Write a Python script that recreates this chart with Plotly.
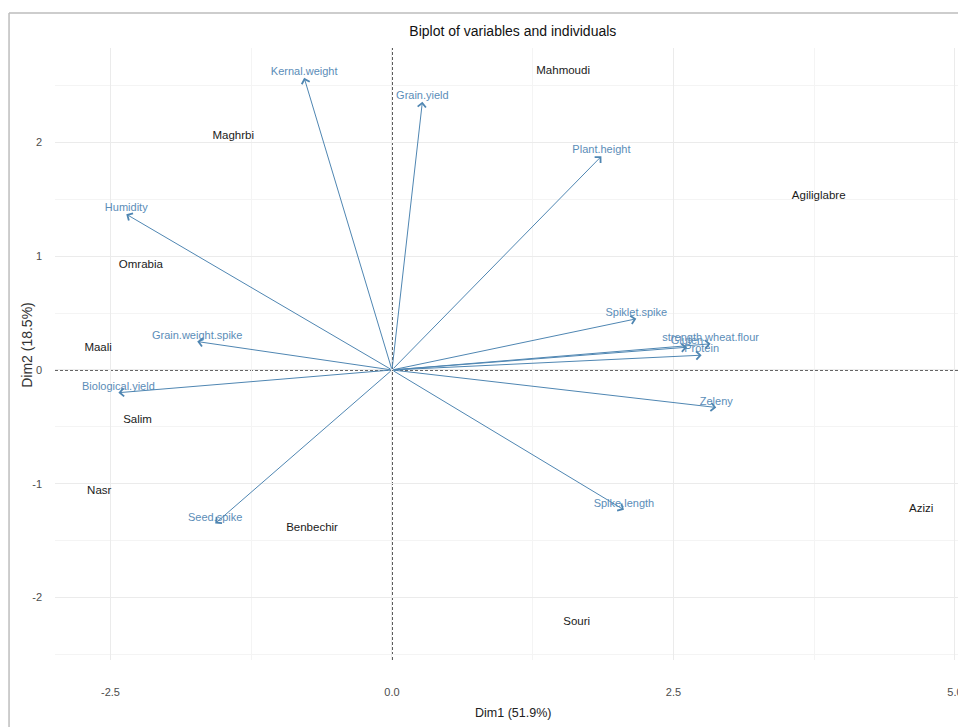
import plotly.graph_objects as go

# PCA biplot: individuals (genotypes) and variables (traits) on Dim1 / Dim2
ind_names = ["Mahmoudi", "Maghrbi", "Agiliglabre", "Omrabia", "Maali",
             "Salim", "Nasr", "Benbechir", "Souri", "Azizi"]
ind_dim1 = [1.52, -1.41, 3.79, -2.23, -2.61, -2.26, -2.60, -0.71, 1.64, 4.70]
ind_dim2 = [2.63, 2.06, 1.53, 0.92, 0.19, -0.44, -1.07, -1.39, -2.22, -1.22]

var_names = ["Kernal.weight", "Grain.yield", "Plant.height", "Humidity",
             "Spiklet.spike", "strength.wheat.flour", "Gluten", "Protein",
             "Zeleny", "Spike.length", "Seed.spike", "Grain.weight.spike",
             "Biological.yield"]
var_dim1 = [-0.78, 0.27, 1.86, -2.36, 2.17, 2.83, 2.62, 2.75, 2.88, 2.06,
            -1.57, -1.73, -2.43]
var_dim2 = [2.57, 2.36, 1.88, 1.37, 0.45, 0.23, 0.20, 0.13, -0.33, -1.23,
            -1.35, 0.25, -0.20]

x_ticks = [-2.5, 0.0, 2.5, 5.0]
x_tick_text = ["-2.5", "0.0", "2.5", "5.0"]
y_ticks = [-2, -1, 0, 1, 2]
y_tick_text = ["-2", "-1", "0", "1", "2"]

FONT = "Liberation Sans Narrow, Arial Narrow, Liberation Sans, Arial, sans-serif"
REGULAR = "Liberation Sans, Arial, sans-serif"
VAR_COLOR = "#4f86b2"
GRID = "#ebebeb"
GRID_MINOR = "#f4f4f4"

fig = go.Figure()

# individuals as text labels
fig.add_trace(go.Scatter(
    x=ind_dim1, y=ind_dim2, mode="text", text=ind_names,
    textposition="middle center",
    textfont=dict(family=FONT, size=11.5, color="#1a1a1a"),
    hoverinfo="text", showlegend=False,
))

# variable labels just above the arrow tips
fig.add_trace(go.Scatter(
    x=var_dim1, y=var_dim2, mode="text", text=var_names,
    textposition="top center",
    textfont=dict(family=FONT, size=11, color="#5b8db8"),
    hoverinfo="text", showlegend=False,
))

# variable arrows from the origin
annotations = []
for vx, vy in zip(var_dim1, var_dim2):
    annotations.append(dict(
        x=vx, y=vy, ax=0, ay=0, xref="x", yref="y", axref="x", ayref="y",
        text="", showarrow=True, arrowhead=4, arrowsize=1.6, arrowwidth=1,
        arrowcolor=VAR_COLOR, standoff=0, startstandoff=0,
    ))

# axis titles
annotations.append(dict(
    text="Dim1 (51.9%)", xref="paper", yref="paper", x=0.507, y=-0.0865,
    yanchor="middle", xanchor="center", showarrow=False,
    font=dict(family=FONT, size=12.5, color="#222222"),
))
annotations.append(dict(
    text="Dim2 (18.5%)", xref="paper", yref="paper", x=-0.031, y=0.515,
    textangle=-90, yanchor="middle", xanchor="center", showarrow=False,
    font=dict(family=REGULAR, size=14, color="#333333"),
))

shapes = [
    # dashed reference lines through the origin
    dict(type="line", xref="x", yref="paper", x0=0, x1=0, y0=0, y1=1,
         line=dict(color="#333333", width=1.6, dash="3px,2px"), layer="below"),
    dict(type="line", xref="paper", yref="y", x0=0, x1=1, y0=0, y1=0,
         line=dict(color="#333333", width=1.6, dash="3px,2px"), layer="below"),
    # outer frame
    dict(type="line", xref="paper", yref="paper", x0=-0.0509, x1=-0.0509,
         y0=-0.3, y1=1.0572, line=dict(color="#bdbdbd", width=1.5)),
    dict(type="line", xref="paper", yref="paper", x0=-0.0509, x1=1.2,
         y0=1.0572, y1=1.0572, line=dict(color="#bdbdbd", width=1.5)),
]

fig.update_layout(
    width=958, height=727,
    margin=dict(l=55, r=0, t=48, b=67, autoexpand=False),
    paper_bgcolor="white", plot_bgcolor="white",
    title=dict(text="Biplot of variables and individuals",
               x=0.507, xref="paper", xanchor="center",
               y=1 - 31 / 727, yref="container", yanchor="middle",
               font=dict(family=FONT, size=14, color="#111111")),
    xaxis=dict(range=[-2.993, 5.027], tickvals=x_ticks, ticktext=x_tick_text,
               showgrid=True, gridcolor=GRID, gridwidth=1, zeroline=False,
               showline=False, ticks="", ticklabelstandoff=24,
               ticklabeloverflow="allow", automargin=False,
               tickfont=dict(family=FONT, size=11, color="#4d4d4d"),
               minor=dict(dtick=1.25, tick0=0, showgrid=True,
                          gridcolor=GRID_MINOR, gridwidth=1)),
    yaxis=dict(range=[-2.551, 2.832], tickvals=y_ticks, ticktext=y_tick_text,
               showgrid=True, gridcolor=GRID, gridwidth=1, zeroline=False,
               showline=False, ticks="", ticklabelstandoff=12,
               automargin=False,
               tickfont=dict(family=FONT, size=11, color="#4d4d4d"),
               minor=dict(dtick=0.5, tick0=0, showgrid=True,
                          gridcolor=GRID_MINOR, gridwidth=1)),
    annotations=annotations,
    shapes=shapes,
    showlegend=False,
)

fig.write_html("out.html")
